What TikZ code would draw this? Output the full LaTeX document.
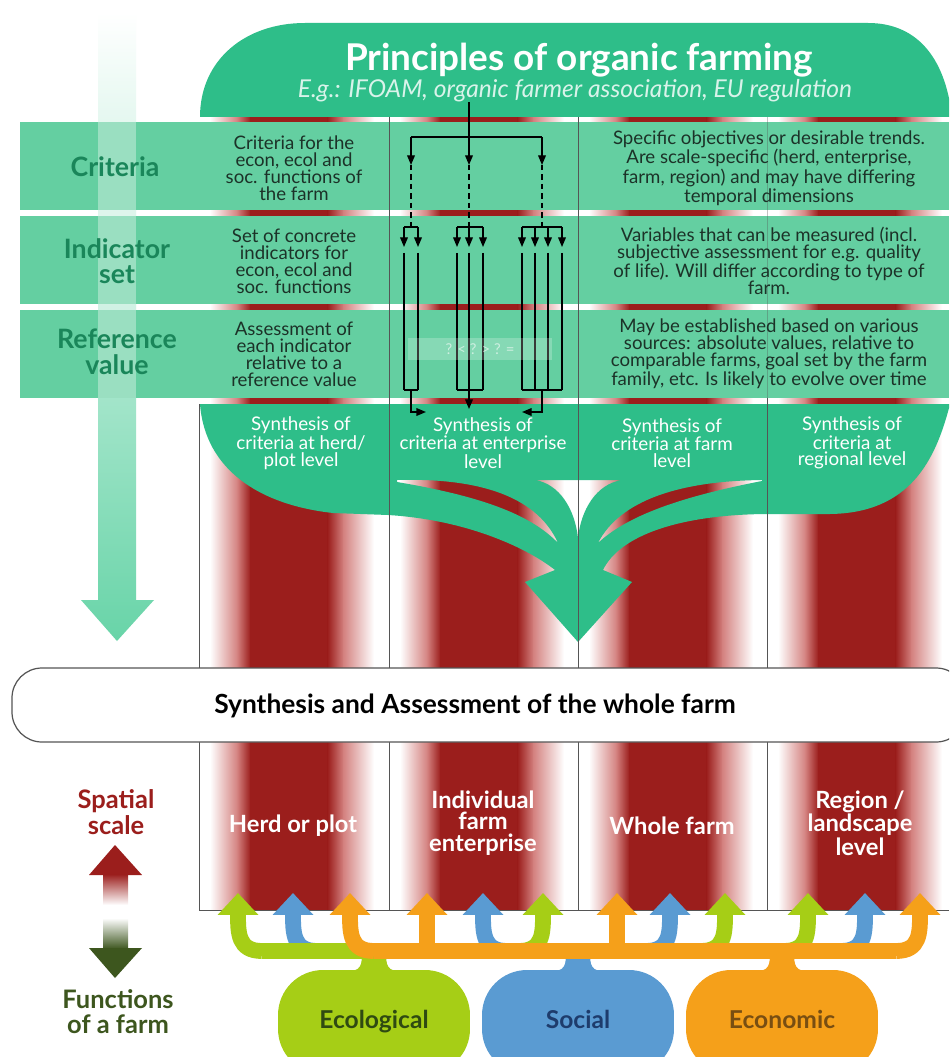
\documentclass[tikz,border=0pt]{standalone}
\usepackage{fontspec}
\setmainfont{Lato}
\usetikzlibrary{arrows.meta,calc}

\definecolor{headgreen}{RGB}{46,190,137}
\definecolor{rowgreen}{RGB}{100,207,161}
\definecolor{labelgreen}{RGB}{26,134,90}
\definecolor{bodyink}{RGB}{28,50,40}
\definecolor{stripered}{RGB}{155,30,28}
\definecolor{pinkmid}{RGB}{212,130,128}
\definecolor{arrowmint}{RGB}{104,212,168}
\definecolor{ecolime}{RGB}{166,206,22}
\definecolor{socblue}{RGB}{90,155,210}
\definecolor{econorange}{RGB}{245,160,26}
\definecolor{ecoink}{RGB}{47,74,18}
\definecolor{socink}{RGB}{30,60,108}
\definecolor{econink}{RGB}{120,78,18}
\definecolor{funcgreen}{RGB}{61,86,30}
\definecolor{colline}{RGB}{85,85,85}

\begin{document}
\begin{tikzpicture}[x=0.02cm,y=-0.02cm,
	body/.style={align=center,text=bodyink,font=\fontsize{10.6}{9.7}\selectfont,inner sep=0pt},
	rowlabel/.style={align=center,text=labelgreen,font=\fontsize{15.2}{14.5}\selectfont\bfseries,inner sep=0pt},
	synth/.style={align=center,text=white,font=\fontsize{10.7}{9.6}\selectfont,inner sep=0pt},
	level label/.style={align=center,text=white,font=\fontsize{13.5}{12.2}\selectfont\bfseries,inner sep=0pt},
	flowline/.style={line width=0.75pt,black},
	flow/.style={flowline,-{Triangle[length=5.5pt,width=4.4pt]}},
	arm/.style={line width=9pt,-{Triangle[length=12.5pt,width=22.5pt]}},
	funcbar/.style={line width=9.5pt},
	pill/.style={rounded corners=0.9cm,minimum width=3.84cm,minimum height=2.08cm,font=\fontsize{14}{14}\selectfont\bfseries},
]
	\useasboundingbox (0,0) rectangle (949,1057);
	\clip (0,0) rectangle (949,1057);
	\fill[white] (0,0) rectangle (949,1057);

	\shade[top color=white,bottom color=arrowmint] (98,12) -- (136,12) -- (136,600) -- (154,600) -- (117,641) -- (81,600) -- (98,600) -- cycle;

	\foreach \colx in {199,389,578,767} {
		\shade[left color=white,right color=pinkmid] (\colx+11,115) rectangle (\colx+38.5,910);
		\shade[left color=pinkmid,right color=stripered] (\colx+38,115) rectangle (\colx+51.5,910);
		\fill[stripered] (\colx+51,115) rectangle (\colx+129,910);
		\shade[left color=stripered,right color=pinkmid] (\colx+128.5,115) rectangle (\colx+145,910);
		\shade[left color=pinkmid,right color=white] (\colx+144.5,115) rectangle (\colx+175,910);
	}

	\fill[headgreen] (200,117) .. controls (200,60) and (245,23) .. (305,23) -- (868,23) .. controls (915,23) and (945,55) .. (952,117) -- cycle;

	\fill[rowgreen] (20,122) rectangle (949,210);
	\fill[rowgreen] (20,216) rectangle (949,304);
	\fill[rowgreen] (20,310) rectangle (949,398);
	\fill[white,opacity=0.35] (98,122) rectangle (136,398);

	\fill[headgreen,even odd rule]
		(200,404) -- (949,404) -- (949,408) .. controls (935,460) and (910,513) .. (830,514) -- (765,514)
		.. controls (680,515) and (620,535) .. (603,570) -- (632,582) -- (578,642) -- (525,582) -- (555,570)
		.. controls (530,550) and (470,520) .. (388,515) -- (333,513) .. controls (260,505) and (205,470) .. (200,404) -- cycle
		(397,480) .. controls (470,478) and (535,492) .. (558,543) .. controls (530,514) and (480,496) .. (397,482) -- cycle
		(535,480) .. controls (560,484) and (575,510) .. (578,538) .. controls (581,510) and (596,484) .. (622,480) -- cycle
		(762,480) .. controls (680,481) and (620,500) .. (598,543) .. controls (630,513) and (690,495) .. (762,481) -- cycle;

	\draw[colline,line width=0.5pt] (199,404) -- (199,910) -- (949,910);
	\draw[colline,line width=0.5pt] (389,117) -- (389,910);
	\draw[colline,line width=0.5pt] (578,117) -- (578,910);
	\draw[colline,line width=0.5pt,opacity=0.35] (767,117) -- (767,398);
	\draw[colline,line width=0.5pt] (767,398) -- (767,910);

	\node (principles) [text=white,font=\fontsize{21}{21}\selectfont\bfseries] at (579,60) {Principles of organic farming};
	\node (principles examples) [text=white!82!headgreen,font=\fontsize{14}{14}\selectfont\itshape] at (575,91) {E.g.: IFOAM, organic farmer association, EU regulation};

	\node (crit label) [rowlabel] at (115,167) {Criteria};
	\node (ind label) [rowlabel] at (117,261) {Indicator\\set};
	\node (ref label) [rowlabel] at (117,352) {Reference\\value};

	\node (crit def) [body] at (294,168) {Criteria for the\\econ, ecol and\\soc. functions of\\the farm};
	\node (ind def) [body] at (294,261) {Set of concrete\\indicators for\\econ, ecol and\\soc. functions};
	\node (ref def) [body] at (294,354) {Assessment of\\each indicator\\relative to a\\reference value};

	\node (crit note) [body] at (769,168) {Specific objectives or desirable trends.\\Are scale-specific (herd, enterprise,\\farm, region) and may have differing\\temporal dimensions};
	\node (ind note) [body] at (769,261) {Variables that can be measured (incl.\\subjective assessment for e.g. quality\\of life). Will differ according to type of\\farm.};
	\node (ref note) [body] at (769,354) {May be established based on various\\sources: absolute values, relative to\\comparable farms, goal set by the farm\\family, etc. Is likely to evolve over time};

	\coordinate (principles src) at (469,102);
	\coordinate (lvl split) at (0,137);
	\coordinate (lvl crit) at (0,165);
	\coordinate (lvl fork) at (0,227);
	\coordinate (lvl ind) at (0,247);
	\coordinate (lvl line) at (0,253);
	\coordinate (lvl join) at (0,390);
	\coordinate (crit a) at (411,0);
	\coordinate (crit b) at (469,0);
	\coordinate (crit c) at (542,0);
	\coordinate (ind a1) at (404,0);
	\coordinate (ind a2) at (418,0);
	\coordinate (ind b1) at (457,0);
	\coordinate (ind b2) at (469,0);
	\coordinate (ind b3) at (483,0);
	\coordinate (ind c1) at (522,0);
	\coordinate (ind c2) at (535,0);
	\coordinate (ind c3) at (548,0);
	\coordinate (ind c4) at (562,0);
	\coordinate (out a) at (426,412);
	\coordinate (out b) at (469,409);
	\coordinate (out c) at (522,412);

	\draw[flowline] (principles src) -- (crit b |- lvl split);
	\draw[flowline] (crit a |- lvl split) -- (crit c |- lvl split);
	\draw[flow] (crit a |- lvl split) -- (crit a |- lvl crit);
	\draw[flow] (crit b |- lvl split) -- (crit b |- lvl crit);
	\draw[flow] (crit c |- lvl split) -- (crit c |- lvl crit);
	\draw[flowline,dash pattern=on 3pt off 2.4pt] (crit a |- lvl crit) -- (crit a |- lvl fork);
	\draw[flowline,dash pattern=on 3pt off 2.4pt] (crit b |- lvl crit) -- (crit b |- lvl fork);
	\draw[flowline,dash pattern=on 3pt off 2.4pt] (crit c |- lvl crit) -- (crit c |- lvl fork);

	\draw[flowline] (ind a1 |- lvl fork) -- (ind a2 |- lvl fork);
	\draw[flowline] (ind b1 |- lvl fork) -- (ind b3 |- lvl fork);
	\draw[flowline] (ind c1 |- lvl fork) -- (ind c4 |- lvl fork);
	\draw[flow] (ind a1 |- lvl fork) -- (ind a1 |- lvl ind);
	\draw[flow] (ind a2 |- lvl fork) -- (ind a2 |- lvl ind);
	\draw[flow] (ind b1 |- lvl fork) -- (ind b1 |- lvl ind);
	\draw[flow] (ind b2 |- lvl fork) -- (ind b2 |- lvl ind);
	\draw[flow] (ind b3 |- lvl fork) -- (ind b3 |- lvl ind);
	\draw[flow] (ind c1 |- lvl fork) -- (ind c1 |- lvl ind);
	\draw[flow] (ind c2 |- lvl fork) -- (ind c2 |- lvl ind);
	\draw[flow] (ind c3 |- lvl fork) -- (ind c3 |- lvl ind);
	\draw[flow] (ind c4 |- lvl fork) -- (ind c4 |- lvl ind);

	\draw[flowline] (ind a1 |- lvl line) -- (ind a1 |- lvl join);
	\draw[flowline] (ind a2 |- lvl line) -- (ind a2 |- lvl join);
	\draw[flowline] (ind b1 |- lvl line) -- (ind b1 |- lvl join);
	\draw[flowline] (ind b2 |- lvl line) -- (ind b2 |- lvl join);
	\draw[flowline] (ind b3 |- lvl line) -- (ind b3 |- lvl join);
	\draw[flowline] (ind c1 |- lvl line) -- (ind c1 |- lvl join);
	\draw[flowline] (ind c2 |- lvl line) -- (ind c2 |- lvl join);
	\draw[flowline] (ind c3 |- lvl line) -- (ind c3 |- lvl join);
	\draw[flowline] (ind c4 |- lvl line) -- (ind c4 |- lvl join);
	\draw[flowline] (ind a1 |- lvl join) -- (ind a2 |- lvl join);
	\draw[flowline] (ind b1 |- lvl join) -- (ind b3 |- lvl join);
	\draw[flowline] (ind c1 |- lvl join) -- (ind c4 |- lvl join);

	\draw[flow] (crit a |- lvl join) |- (out a);
	\draw[flow] (crit b |- lvl join) -- (out b);
	\draw[flow] (crit c |- lvl join) |- (out c);

	\node (compare) [fill=white,fill opacity=0.22,text opacity=0.6,text=white,minimum width=2.88cm,minimum height=0.44cm,inner sep=0pt,font=\fontsize{8.5}{8.5}\selectfont] at (480,349) {? < ? > ? =};

	\node (synth herd) [synth] at (301,443) {Synthesis of\\criteria at herd/\\plot level};
	\node (synth ent) [synth] at (483,443) {Synthesis of\\criteria at enterprise\\level};
	\node (synth farm) [synth] at (672,443) {Synthesis of\\criteria at farm\\level};
	\node (synth region) [synth] at (852,443) {Synthesis of\\criteria at\\regional level};

	\draw[fill=white,draw=colline,line width=0.7pt,rounded corners=0.6cm] (12,668) rectangle (966,742);
	\node (whole farm) [font=\fontsize{15}{15}\selectfont\bfseries] at (475,706) {Synthesis and Assessment of the whole farm};

	\node (herd level) [level label] at (293,826) {Herd or plot};
	\node (enterprise level) [level label] at (483,823) {Individual\\farm\\enterprise};
	\node (farm level) [level label] at (672,826) {Whole farm};
	\node (region level) [level label] at (860,823) {Region /\\landscape\\level};

	\node (spatial) [align=center,text=stripered,font=\fontsize{14.5}{14.7}\selectfont\bfseries] at (116,812) {Spatial\\scale};
	\shade[top color=stripered,bottom color=white] (103,874) rectangle (128,905);
	\fill[stripered] (89,875) -- (115,845) -- (142,875) -- cycle;
	\shade[top color=white,bottom color=funcgreen] (103,918) rectangle (128,949);
	\fill[funcgreen] (89,948) -- (142,948) -- (115,978) -- cycle;
	\node (functions) [align=center,text=funcgreen,font=\fontsize{14.5}{14.2}\selectfont\bfseries] at (118,1012) {Functions\\of a farm};

	\node (eco) [pill,fill=ecolime,text=ecoink] at (374,1022) {\raisebox{3pt}{Ecological}};
	\node (soc) [pill,fill=socblue,text=socink] at (578,1022) {\raisebox{3pt}{Social}};
	\node (econ) [pill,fill=econorange,text=econink] at (782,1022) {\raisebox{3pt}{Economic}};

	\coordinate (func bar) at (0,951);
	\coordinate (herd eco) at (238,893);
	\coordinate (herd soc) at (293,893);
	\coordinate (herd econ) at (350,893);
	\coordinate (ent econ) at (427,893);
	\coordinate (ent soc) at (483,893);
	\coordinate (ent eco) at (543,893);
	\coordinate (whole econ) at (617,893);
	\coordinate (whole soc) at (670,893);
	\coordinate (whole eco) at (725,893);
	\coordinate (region eco) at (808,893);
	\coordinate (region soc) at (865,893);
	\coordinate (region econ) at (920,893);

	\fill[socblue] ($(soc.north)+(-30,2)$) .. controls ($(soc.north)+(-12,2)$) and ($(soc.north)+(-12,-4)$) .. ($(soc.north)+(-12,-20)$) -- ($(soc.north)+(12,-20)$) .. controls ($(soc.north)+(12,-4)$) and ($(soc.north)+(12,2)$) .. ($(soc.north)+(30,2)$) -- cycle;
	\draw[funcbar,socblue] ($(herd soc |- func bar)+(24,0)$) -- ($(region soc |- func bar)+(-24,0)$);
	\draw[arm,socblue] ($(herd soc |- func bar)+(24,0)$) .. controls (herd soc |- func bar) and ($(herd soc)+(0,40)$) .. (herd soc);
	\draw[arm,socblue] ($(ent soc |- func bar)+(24,0)$) .. controls (ent soc |- func bar) and ($(ent soc)+(0,40)$) .. (ent soc);
	\draw[arm,socblue] ($(whole soc |- func bar)+(-24,0)$) .. controls (whole soc |- func bar) and ($(whole soc)+(0,40)$) .. (whole soc);
	\draw[arm,socblue] ($(region soc |- func bar)+(-24,0)$) .. controls (region soc |- func bar) and ($(region soc)+(0,40)$) .. (region soc);

	\fill[ecolime] ($(eco.north)+(-30,2)$) .. controls ($(eco.north)+(-12,2)$) and ($(eco.north)+(-12,-4)$) .. ($(eco.north)+(-12,-20)$) -- ($(eco.north)+(12,-20)$) .. controls ($(eco.north)+(12,-4)$) and ($(eco.north)+(12,2)$) .. ($(eco.north)+(30,2)$) -- cycle;
	\draw[funcbar,ecolime] ($(herd eco |- func bar)+(24,0)$) -- ($(region eco |- func bar)+(-24,0)$);
	\draw[arm,ecolime] ($(herd eco |- func bar)+(24,0)$) .. controls (herd eco |- func bar) and ($(herd eco)+(0,40)$) .. (herd eco);
	\draw[arm,ecolime] ($(ent eco |- func bar)+(-24,0)$) .. controls (ent eco |- func bar) and ($(ent eco)+(0,40)$) .. (ent eco);
	\draw[arm,ecolime] ($(whole eco |- func bar)+(-24,0)$) .. controls (whole eco |- func bar) and ($(whole eco)+(0,40)$) .. (whole eco);
	\draw[arm,ecolime] ($(region eco |- func bar)+(-24,0)$) .. controls (region eco |- func bar) and ($(region eco)+(0,40)$) .. (region eco);

	\fill[econorange] ($(econ.north)+(-30,2)$) .. controls ($(econ.north)+(-12,2)$) and ($(econ.north)+(-12,-4)$) .. ($(econ.north)+(-12,-20)$) -- ($(econ.north)+(12,-20)$) .. controls ($(econ.north)+(12,-4)$) and ($(econ.north)+(12,2)$) .. ($(econ.north)+(30,2)$) -- cycle;
	\draw[funcbar,econorange] ($(herd econ |- func bar)+(24,0)$) -- ($(region econ |- func bar)+(-24,0)$);
	\draw[arm,econorange] ($(herd econ |- func bar)+(24,0)$) .. controls (herd econ |- func bar) and ($(herd econ)+(0,40)$) .. (herd econ);
	\draw[arm,econorange] (ent econ |- func bar) -- (ent econ);
	\draw[arm,econorange] (whole econ |- func bar) -- (whole econ);
	\draw[arm,econorange] ($(region econ |- func bar)+(-24,0)$) .. controls (region econ |- func bar) and ($(region econ)+(0,40)$) .. (region econ);

\end{tikzpicture}
\end{document}
